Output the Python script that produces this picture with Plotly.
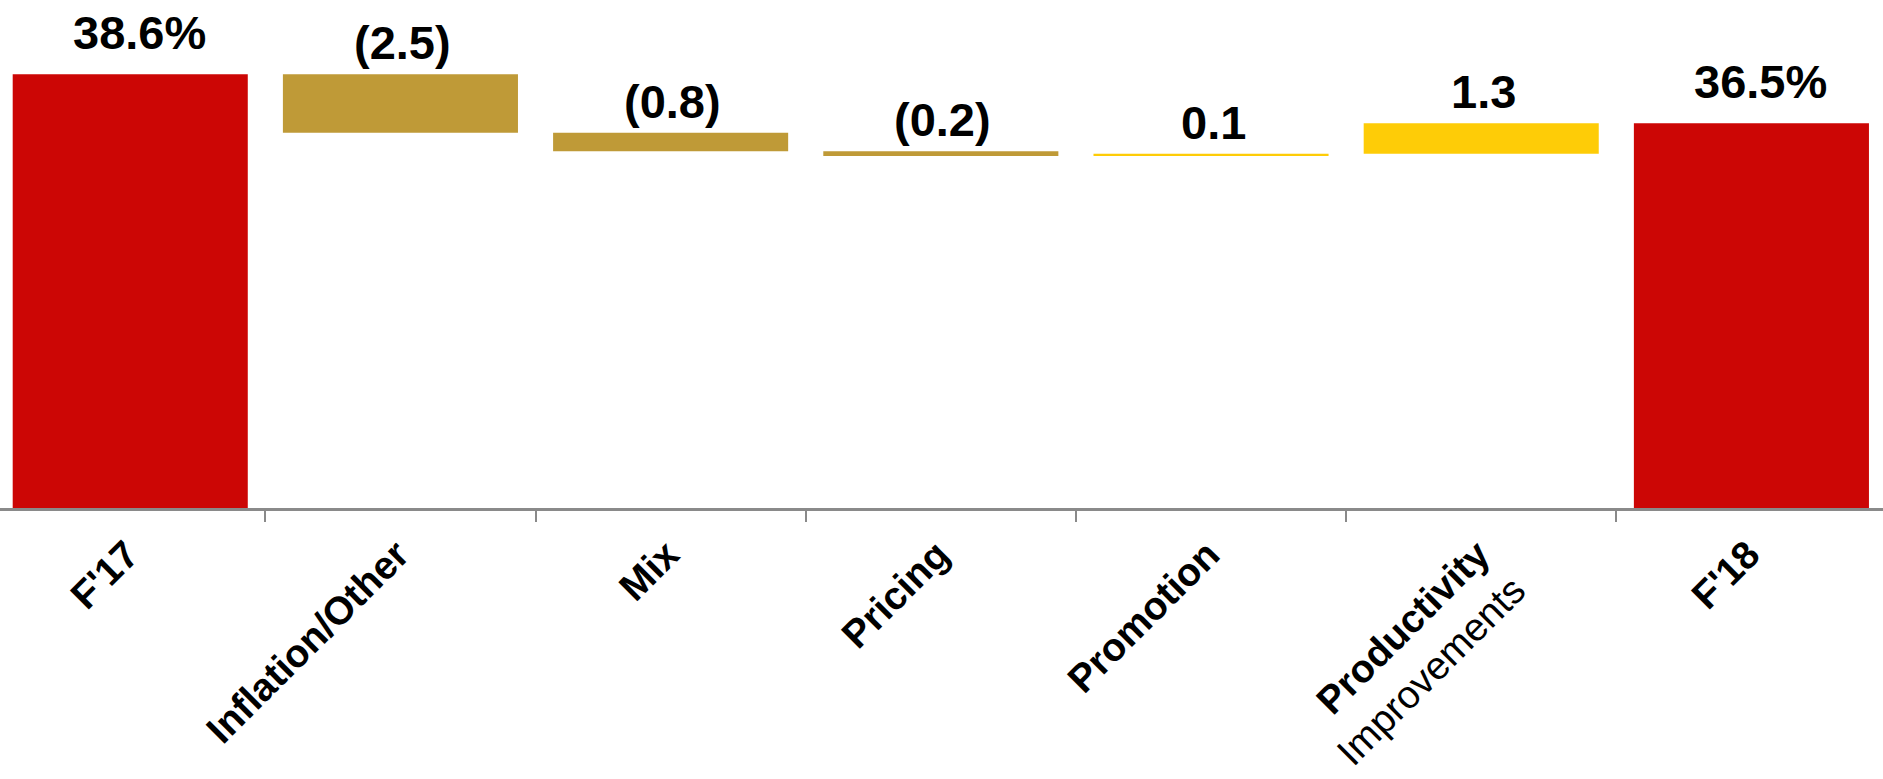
import plotly.graph_objects as go

# ---- data ----
categories = ["F'17", "Inflation/Other", "Mix", "Pricing", "Promotion",
              "Productivity Improvements", "F'18"]
tick_labels = ["<b>F'17</b>", "<b>Inflation/Other</b>", "<b>Mix</b>", "<b>Pricing</b>",
               "<b>Promotion</b>", "<b>Productivity</b><br>Improvements", "<b>F'18</b>"]
values = [38.6, -2.5, -0.8, -0.2, 0.1, 1.3, 36.5]
measures = ["absolute", "relative", "relative", "relative", "relative", "relative", "total"]
value_labels = ["38.6%", "(2.5)", "(0.8)", "(0.2)", "0.1", "1.3", "36.5%"]

# ---- colours ----
RED = "#CC0605"
GOLD = "#BF9A37"
YELLOW = "#FECC07"
FONT = "Liberation Sans, Arial, sans-serif"

# compute waterfall geometry from values
bases, heights, colors, tops = [], [], [], []
running = 0.0
for v, m in zip(values, measures):
    if m == "absolute":
        running = v
        bases.append(0.0); heights.append(v); colors.append(RED); tops.append(v)
    elif m == "total":
        bases.append(0.0); heights.append(running); colors.append(RED); tops.append(running)
    else:
        start = running
        running = round(running + v, 6)
        bases.append(min(start, running))
        heights.append(abs(v))
        colors.append(GOLD if v < 0 else YELLOW)
        tops.append(max(start, running))

fig = go.Figure()
fig.add_trace(go.Bar(
    x=categories, y=heights, base=bases, width=0.87,
    marker=dict(color=colors, line=dict(width=0)),
    hoverinfo="skip", showlegend=False,
))

for c, t, lab, m in zip(categories, tops, value_labels, measures):
    fig.add_annotation(
        x=c, y=t, text=lab, showarrow=False, yanchor="bottom",
        yshift=13 if m != "relative" else 3,
        xshift=9 if m != "relative" else 2,
        font=dict(family=FONT, size=47, color="black", weight="bold"),
    )

fig.update_layout(
    width=1883, height=779,
    margin=dict(l=0, r=0, t=0, b=271, pad=0, autoexpand=False),
    plot_bgcolor="white", paper_bgcolor="white",
    bargap=0.13,
    xaxis=dict(
        range=[-0.482, 6.487], automargin=False,
        tickmode="array", tickvals=categories, ticktext=tick_labels,
        tickangle=-45, tickson="boundaries",
        ticks="outside", ticklen=11, tickwidth=2, tickcolor="#8A8A8A",
        showline=True, linecolor="#8A8A8A", linewidth=3,
        showgrid=False, zeroline=False,
        ticklabelshift=-3, ticklabelstandoff=5,
        tickfont=dict(family=FONT, size=39, color="black"),
    ),
    yaxis=dict(range=[20, 41.79], visible=False, showgrid=False, zeroline=False,
               automargin=False),
)

fig.write_html(
    "out.html",
    config={"displayModeBar": False},
    post_script="document.body.style.margin='0';document.body.style.overflow='hidden';",
)
